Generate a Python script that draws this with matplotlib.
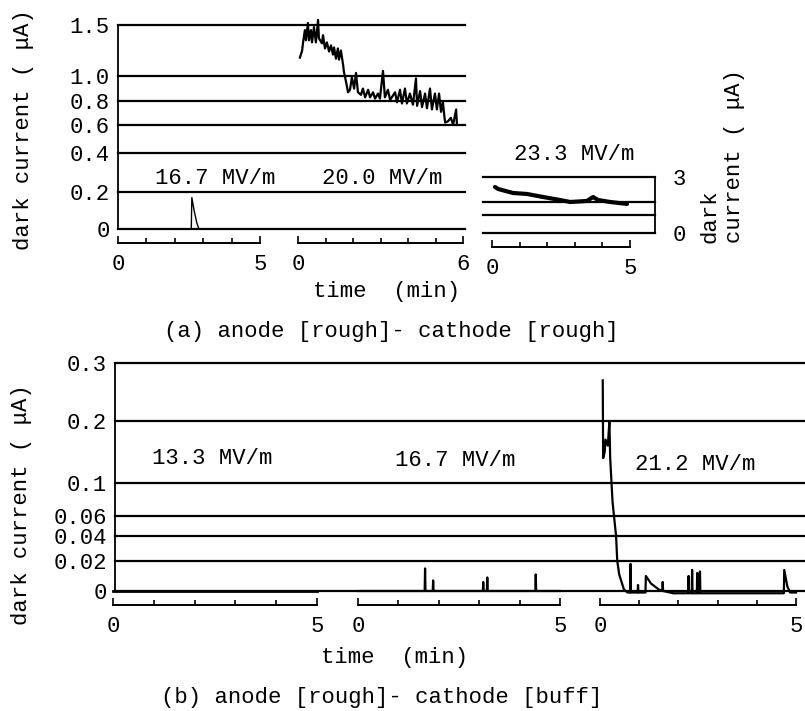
import numpy as np
import matplotlib
matplotlib.use("Agg")
import matplotlib.pyplot as plt

plt.rcParams['font.family'] = ['Liberation Mono', 'DejaVu Sans Mono', 'DejaVu Sans']
FS = 16

# ---------------- data ----------------
# (a) anode [rough] - cathode [rough]
a_ticks = [0, 0.2, 0.4, 0.6, 0.8, 1.0, 1.5]
a_tick_labels = ['0', '0.2', '0.4', '0.6', '0.8', '1.0', '1.5']
a_tick_frac = [0, 0.181, 0.373, 0.510, 0.627, 0.750, 1.0]   # chart-recorder scale

a1_field = '16.7 MV/m'
a1_time = [0.0, 2.58, 2.60, 2.68, 2.78, 2.85, 5.0]
a1_current = [0.0, 0.0, 0.17, 0.10, 0.03, 0.0, 0.0]

a2_field = '20.0 MV/m'
a2_time = [0.07, 0.15, 0.18, 0.25, 0.29, 0.36, 0.40, 0.47, 0.51, 0.58, 0.65, 0.73,
           0.76, 0.87, 0.91, 0.98, 1.05, 1.13, 1.20, 1.27, 1.31, 1.38, 1.45, 1.49,
           1.56, 1.64, 1.67, 1.75, 1.82, 1.89, 1.96, 2.04, 2.11, 2.18, 2.29, 2.36,
           2.44, 2.55, 2.62, 2.73, 2.80, 2.91, 2.98, 3.09, 3.16, 3.27, 3.35, 3.53,
           3.60, 3.71, 3.78, 3.89, 3.96, 4.07, 4.18, 4.29, 4.33, 4.44, 4.51, 4.62,
           4.69, 4.80, 4.87, 4.98, 5.05, 5.13, 5.20, 5.27, 5.31, 5.35, 5.45, 5.56,
           5.64, 5.75, 5.78]
a2_current = [1.18, 1.25, 1.32, 1.45, 1.35, 1.52, 1.35, 1.45, 1.33, 1.48, 1.33, 1.55,
              1.37, 1.32, 1.40, 1.27, 1.33, 1.24, 1.30, 1.21, 1.28, 1.17, 1.27, 1.16,
              1.25, 1.11, 1.04, 0.95, 0.87, 0.89, 0.99, 0.90, 1.03, 0.87, 0.85, 0.90,
              0.83, 0.89, 0.83, 0.87, 0.82, 0.86, 0.82, 1.05, 0.83, 0.89, 0.81, 0.87,
              0.79, 0.89, 0.78, 0.90, 0.78, 0.86, 0.77, 0.98, 0.76, 0.88, 0.75, 0.86,
              0.74, 0.90, 0.73, 0.86, 0.73, 0.86, 0.71, 0.79, 0.70, 0.62, 0.63, 0.66,
              0.60, 0.73, 0.60]

a3_field = '23.3 MV/m'
a3_ticks = [0, 1, 2, 3]
a3_tick_frac = [0, 0.321, 0.554, 1.0]
a3_time = [0.11, 0.22, 0.76, 1.27, 1.85, 2.46, 2.83, 3.44, 3.66, 3.84, 4.28, 4.89]
a3_current = [2.6, 2.52, 2.36, 2.32, 2.2, 2.08, 2.0, 2.04, 2.2, 2.08, 2.0, 1.85]

# (b) anode [rough] - cathode [buff]
b_ticks = [0, 0.02, 0.04, 0.06, 0.1, 0.2, 0.3]
b_tick_labels = ['0', '0.02', '0.04', '0.06', '0.1', '0.2', '0.3']
b_tick_frac = [0, 0.132, 0.241, 0.329, 0.474, 0.746, 1.0]

b1_field = '13.3 MV/m'
b1_time = [0.0, 5.0]
b1_current = [0.0, 0.0]

b2_field = '16.7 MV/m'
b2_time = [0.0, 1.65, 1.66, 1.67, 1.85, 1.86, 1.87, 3.09, 3.10, 3.11, 3.19, 3.20,
           3.21, 4.39, 4.40, 4.41, 5.0]
b2_current = [0.0, 0.0, 0.015, 0.0, 0.0, 0.007, 0.0, 0.0, 0.006, 0.0, 0.0, 0.009,
              0.0, 0.0, 0.011, 0.0, 0.0]

b3_field = '21.2 MV/m'
b3_time = [0.07, 0.08, 0.12, 0.14, 0.20, 0.24, 0.26, 0.32, 0.41, 0.44, 0.49, 0.61,
           0.70, 0.77, 0.78, 0.79, 0.96, 0.97, 0.98, 1.16, 1.17, 1.30, 1.50, 1.59,
           1.60, 1.61, 1.87, 2.25, 2.26, 2.27, 2.34, 2.35, 2.36, 2.47, 2.48, 2.49,
           2.54, 2.55, 2.56, 3.50, 4.69, 4.70, 4.78, 4.85, 5.0]
b3_current = [0.27, 0.14, 0.15, 0.17, 0.16, 0.20, 0.14, 0.077, 0.04, 0.02, 0.011, 0.001,
              -0.001, -0.001, 0.018, -0.001, -0.001, 0.004, -0.001, -0.001, 0.010, 0.005,
              0.001, 0.0, 0.006, 0.0, -0.0015, -0.0015, 0.010, -0.0015, -0.0015, 0.014,
              -0.0015, -0.0015, 0.012, -0.0015, -0.0015, 0.013, -0.0015, -0.0015, -0.0015,
              0.014, 0.003, -0.001, -0.001]

# ---------------- layout helpers ----------------
W, H = 805, 711
fig = plt.figure(figsize=(W / 100, H / 100), dpi=100)
fig.patch.set_facecolor('white')


def px_axes(x0, x1, ytop, ybot):
    ax = fig.add_axes([x0 / W, 1 - ybot / H, (x1 - x0) / W, (ybot - ytop) / H])
    ax.patch.set_alpha(0)
    return ax


def recorder_scale(ax, ticks, fracs):
    v = np.asarray(ticks, float)
    f = np.asarray(fracs, float)
    # extend linearly past both ends
    lo_v = v[0] - (v[1] - v[0]); lo_f = f[0] - (f[1] - f[0])
    hi_v = v[-1] + (v[-1] - v[-2]); hi_f = f[-1] + (f[-1] - f[-2])
    v = np.concatenate([[lo_v], v, [hi_v]])
    f = np.concatenate([[lo_f], f, [hi_f]])
    ax.set_yscale('function', functions=(lambda x: np.interp(x, v, f),
                                         lambda y: np.interp(y, f, v)))
    ax.set_ylim(ticks[0], ticks[-1])


def frame(x0, x1, ytop, ybot, ticks, fracs, labels, side='left', pad=6):
    ax = px_axes(x0, x1, ytop, ybot)
    recorder_scale(ax, ticks, fracs)
    for s in ax.spines.values():
        s.set_visible(False)
    ax.spines[side].set_visible(True)
    ax.spines[side].set_linewidth(1.3)
    ax.set_xticks([])
    ax.set_xlim(0, 1)
    for t in ticks:
        ax.axhline(t, color='black', lw=1.6, clip_on=False)
    ax.set_yticks(ticks)
    ax.set_yticklabels(labels)
    ax.yaxis.set_minor_locator(plt.NullLocator())
    if side == 'right':
        ax.yaxis.tick_right()
    ax.tick_params(axis='y', length=0, pad=pad, labelsize=FS)
    return ax


def segment(x0, x1, ytop, ybot, ticks, fracs, tmax):
    ax = px_axes(x0, x1, ytop, ybot)
    recorder_scale(ax, ticks, fracs)
    for s in ax.spines.values():
        s.set_visible(False)
    ax.spines['bottom'].set_visible(True)
    ax.spines['bottom'].set_position(('outward', 10))
    ax.spines['bottom'].set_linewidth(1.4)
    ax.set_xlim(0, tmax)
    ax.set_xticks([0, tmax])
    ax.set_xticks(list(range(1, tmax)), minor=True)
    ax.tick_params(axis='x', which='both', direction='in', width=1.2, pad=8,
                   labelsize=FS)
    ax.tick_params(axis='x', which='major', length=5)
    ax.tick_params(axis='x', which='minor', length=3.5)
    ax.set_yticks([])
    ax.yaxis.set_minor_locator(plt.NullLocator())
    return ax


def T(x, y, s, **kw):
    kw.setdefault('ha', 'center')
    kw.setdefault('va', 'center')
    kw.setdefault('fontsize', FS)
    fig.text(x / W, 1 - y / H, s, **kw)


# ---------------- panel (a) ----------------
frame(118, 465, 25, 229, a_ticks, a_tick_frac, a_tick_labels)
sa1 = segment(118, 260, 25, 229, a_ticks, a_tick_frac, 5)
sa1.plot(a1_time, a1_current, color='black', lw=1.0, clip_on=False)
sa2 = segment(298, 463, 25, 229, a_ticks, a_tick_frac, 6)
sa2.plot(a2_time, a2_current, color='black', lw=1.6, clip_on=False)

frame(483, 655, 177, 233, a3_ticks, a3_tick_frac, ['0', '', '', '3'],
      side='right', pad=13)
sa3 = segment(492, 630, 177, 233, a3_ticks, a3_tick_frac, 5)
sa3.plot(a3_time, a3_current, color='black', lw=3.0, solid_capstyle='round',
         clip_on=False)

T(215, 178, a1_field)
T(382, 178, a2_field)
T(574, 155, a3_field)
T(24, 130, 'dark current ( μA)', rotation=90)
T(722, 243, 'dark\ncurrent ( μA)', rotation=90, va='bottom',
  multialignment='left', linespacing=1.25)
T(387, 292, 'time  (min)')
T(391, 332, '(a) anode [rough]- cathode [rough]')

# ---------------- panel (b) ----------------
frame(115, 830, 363, 591, b_ticks, b_tick_frac, b_tick_labels)
sb1 = segment(113, 317, 363, 591, b_ticks, b_tick_frac, 5)
sb1.plot(b1_time, b1_current, color='black', lw=2.0, clip_on=False)
sb2 = segment(358, 560, 363, 591, b_ticks, b_tick_frac, 5)
sb2.plot(b2_time, b2_current, color='black', lw=1.6, clip_on=False)
sb3 = segment(600, 796, 363, 591, b_ticks, b_tick_frac, 5)
sb3.plot(b3_time, b3_current, color='black', lw=1.6, clip_on=False)

T(212, 458, b1_field)
T(455, 460, b2_field)
T(695, 465, b3_field)
T(22, 505, 'dark current ( μA)', rotation=90)
T(395, 657, 'time  (min)')
T(382, 697, '(b) anode [rough]- cathode [buff]')

fig.savefig('out.png', dpi=100, facecolor='white')
